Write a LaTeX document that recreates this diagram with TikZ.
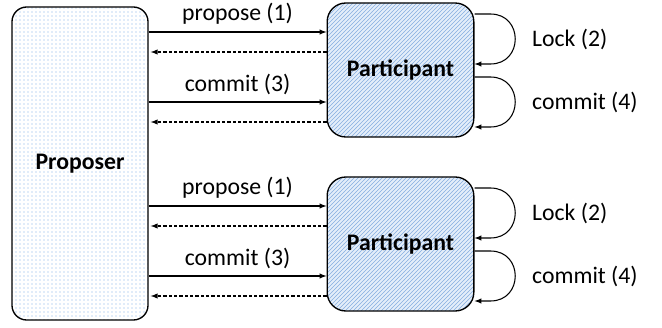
\documentclass[tikz,border=0pt]{standalone}
\usepackage{fontspec}
\setmainfont{Carlito}
\usepackage{tikz}
\usetikzlibrary{arrows,calc,patterns}
\usepackage{xcolor}

\definecolor{dotblue}{HTML}{7FAEE6}
\definecolor{partfill}{HTML}{E4EEFA}
\definecolor{hatchblue}{HTML}{86AEE0}

\begin{document}
\begin{tikzpicture}[x=0.75pt, y=-0.75pt, line width=0.8pt,
        every node/.style={font=\fontsize{17.8}{20}\selectfont},
        proposer/.style={draw, line width=1pt, rounded corners=11pt, minimum width=102pt, minimum height=234.75pt,
            pattern=dots, pattern color=dotblue, preaction={fill=white},
            font=\fontsize{17.8}{20}\selectfont\bfseries},
        participant/.style={draw, line width=1pt, rounded corners=14pt, minimum width=110pt, minimum height=100.5pt,
            pattern=north east lines, pattern color=hatchblue, preaction={fill=partfill},
            font=\fontsize{17.8}{20}\selectfont\bfseries},
        req/.style={-latex},
        ack/.style={-latex, dash pattern=on 2.5pt off 1.5pt, shorten >=1.5pt},
        selfloop/.style={-latex}]
        \useasboundingbox (0,0) rectangle (662,328);
        \node[proposer] (prop) at (80,163.5) {Proposer};
        \node[participant] (p1) at (400.5,70) {Participant};
        \node[participant] (p2) at (400.5,244) {Participant};
        \foreach \p in {p1,p2}{
            \foreach \dy/\lbl in {-38/propose (1),32/commit (3)}{
                \coordinate (s) at ($(\p.west)+(0,\dy)$);
                \coordinate (r) at ($(\p.west)+(0,\dy+20)$);
                \draw[req] (prop.east |- s) -- node[above=2pt] {\lbl} (s);
                \draw[ack] (r) -- (prop.east |- r);
            }
            \draw[selfloop] ($(\p.east)+(0,-56)$) -- ++(16,0) .. controls +(33,0) and +(33,0) .. node[right=9pt] {Lock (2)} ++(0,50) -- ++(-16,0);
            \draw[selfloop] ($(\p.east)+(0,7)$) -- ++(16,0) .. controls +(33,0) and +(33,0) .. node[right=9pt] {commit (4)} ++(0,50) -- ++(-16,0);
        }
    \end{tikzpicture}
\end{document}
